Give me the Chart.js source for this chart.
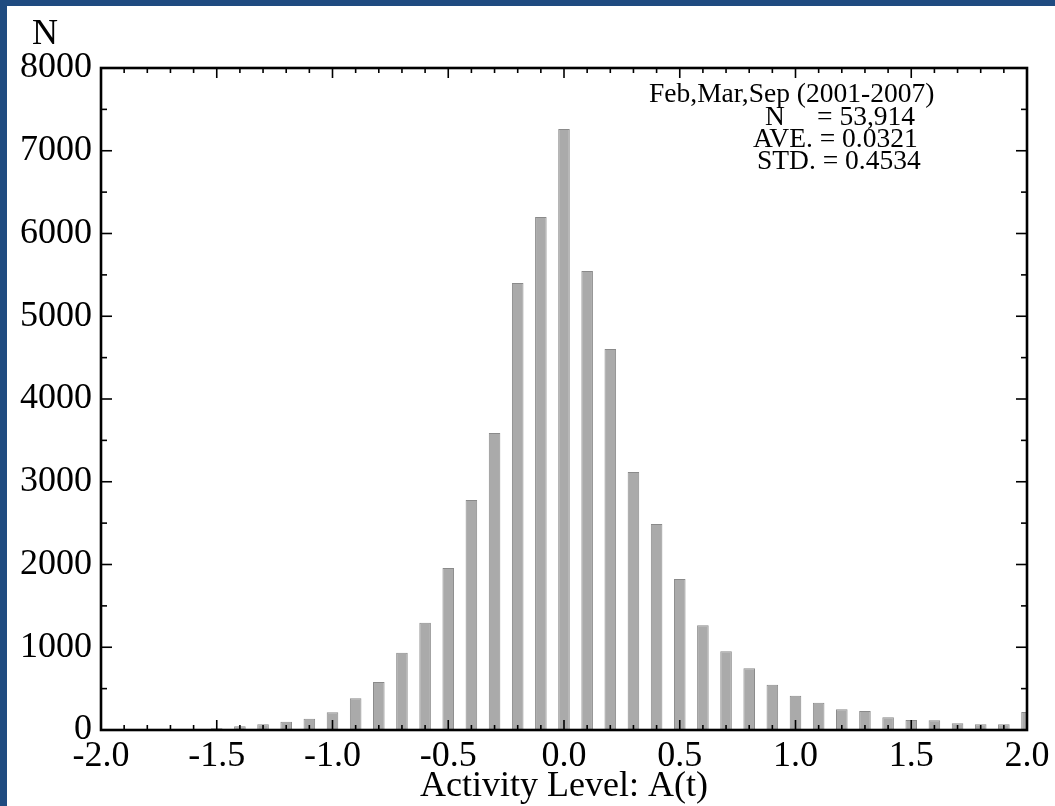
<!DOCTYPE html>
<html>
<head>
<meta charset="utf-8">
<title>Activity Level histogram</title>
<script src="https://cdn.jsdelivr.net/npm/chart.js@4.4.1/dist/chart.umd.min.js"></script>
<style>
  body { margin: 0; background: #1f4b80; }
  #wrap { position: absolute; left: 7px; top: 6px; width: 1048px; height: 800px; background: #fff; }
</style>
</head>
<body>
<div id="wrap"><canvas id="histChart" width="1048" height="800"></canvas></div>
<script>
// bin centres of A(t) and the counts in each bin
var binCenters = [-1.5, -1.4, -1.3, -1.2, -1.1, -1.0, -0.9, -0.8, -0.7, -0.6,
                  -0.5, -0.4, -0.3, -0.2, -0.1, 0.0, 0.1, 0.2, 0.3, 0.4,
                  0.5, 0.6, 0.7, 0.8, 0.9, 1.0, 1.1, 1.2, 1.3, 1.4,
                  1.5, 1.6, 1.7, 1.8, 1.9, 2.0];
var binCounts = [20, 45, 68, 100, 137, 214, 383, 580, 934, 1297,
                 1958, 2780, 3589, 5402, 6199, 7263, 5547, 4604, 3118, 2489,
                 1825, 1265, 951, 745, 548, 415, 330, 250, 230, 153,
                 121, 117, 81, 68, 68, 217];
var xTicks = [-2.0, -1.5, -1.0, -0.5, 0.0, 0.5, 1.0, 1.5, 2.0];
var yTicks = [0, 1000, 2000, 3000, 4000, 5000, 6000, 7000, 8000];
var infoLines = ['Feb,Mar,Sep (2001-2007)', 'N', '= 53,914', 'AVE. = 0.0321', 'STD. = 0.4534'];

var SERIF = '"Liberation Serif", "Times New Roman", serif';

function line(ctx, x1, y1, x2, y2) {
    ctx.beginPath();
    ctx.moveTo(x1, y1);
    ctx.lineTo(x2, y2);
    ctx.stroke();
}

// box round the plot with inward ticks, the "N" label and the info text
var framePlugin = {
    id: 'frame',
    afterDraw: function (chart) {
        var ctx = chart.ctx, a = chart.chartArea;
        var xs = chart.scales.x, ys = chart.scales.y;
        ctx.save();
        ctx.strokeStyle = '#000';
        ctx.lineWidth = 1.6;
        for (var i = -20; i <= 20; i++) {
            var px = xs.getPixelForValue(i / 10);
            var len = (i % 5 === 0) ? 10 : 5;
            line(ctx, px, a.bottom, px, a.bottom - len);
            line(ctx, px, a.top, px, a.top + len);
        }
        for (var j = 0; j <= 16; j++) {
            var py = ys.getPixelForValue(j * 500);
            var l2 = (j % 2 === 0) ? 11 : 6;
            line(ctx, a.left, py, a.left + l2, py);
            line(ctx, a.right, py, a.right - l2, py);
        }
        ctx.lineWidth = 2.6;
        ctx.strokeRect(a.left, a.top, a.right - a.left, a.bottom - a.top);

        ctx.fillStyle = '#000';
        ctx.font = '36px ' + SERIF;
        ctx.textAlign = 'center';
        ctx.textBaseline = 'middle';
        ctx.fillText('N', 38, 29);

        ctx.font = '27.5px ' + SERIF;
        ctx.textAlign = 'left';
        ctx.textBaseline = 'alphabetic';
        ctx.fillText(infoLines[0], 642, 96);
        ctx.fillText(infoLines[1], 758, 119);
        ctx.fillText(infoLines[2], 810, 119);
        ctx.fillText(infoLines[3], 746, 141);
        ctx.fillText(infoLines[4], 750, 163);
        ctx.restore();
    }
};

var ctx = document.getElementById('histChart').getContext('2d');

var histChart = new Chart(ctx, {
    type: 'bar',
    data: {
        datasets: [{
            data: binCenters.map(function (c, k) { return { x: c, y: binCounts[k] }; }),
            backgroundColor: '#aaaaaa',
            borderColor: '#8a8a8a',
            borderWidth: 1,
            barPercentage: 0.5,
            categoryPercentage: 1.0,
            clip: 0
        }]
    },
    options: {
        responsive: false,
        animation: false,
        layout: { padding: { top: 62, right: 28, bottom: 0, left: 0 } },
        plugins: {
            legend: { display: false },
            tooltip: { enabled: false }
        },
        scales: {
            x: {
                type: 'linear',
                min: -2,
                max: 2,
                offset: false,
                grid: { display: false, drawTicks: false, offset: false },
                border: { display: false },
                afterBuildTicks: function (s) {
                    s.ticks = xTicks.map(function (v) { return { value: v }; });
                },
                afterFit: function (s) {
                    s.height = 76;
                    s.paddingLeft = 0;
                    s.paddingRight = 0;
                },
                ticks: {
                    color: '#000',
                    padding: 5,
                    maxRotation: 0,
                    font: { family: SERIF, size: 36 },
                    callback: function (v) { return Number(v).toFixed(1); }
                },
                title: {
                    display: true,
                    text: 'Activity Level: A(t)',
                    color: '#000',
                    font: { family: SERIF, size: 36, lineHeight: 1.0 },
                    padding: { top: 0, bottom: 1 }
                }
            },
            y: {
                min: 0,
                max: 8000,
                grid: { display: false, drawTicks: false },
                border: { display: false },
                afterBuildTicks: function (s) {
                    s.ticks = yTicks.map(function (v) { return { value: v }; });
                },
                afterFit: function (s) {
                    s.width = 94;
                    s.paddingTop = 0;
                    s.paddingBottom = 0;
                },
                ticks: {
                    color: '#000',
                    padding: 9,
                    font: { family: SERIF, size: 36 },
                    callback: function (v) { return String(v); }
                }
            }
        }
    },
    plugins: [framePlugin]
});
</script>
</body>
</html>
